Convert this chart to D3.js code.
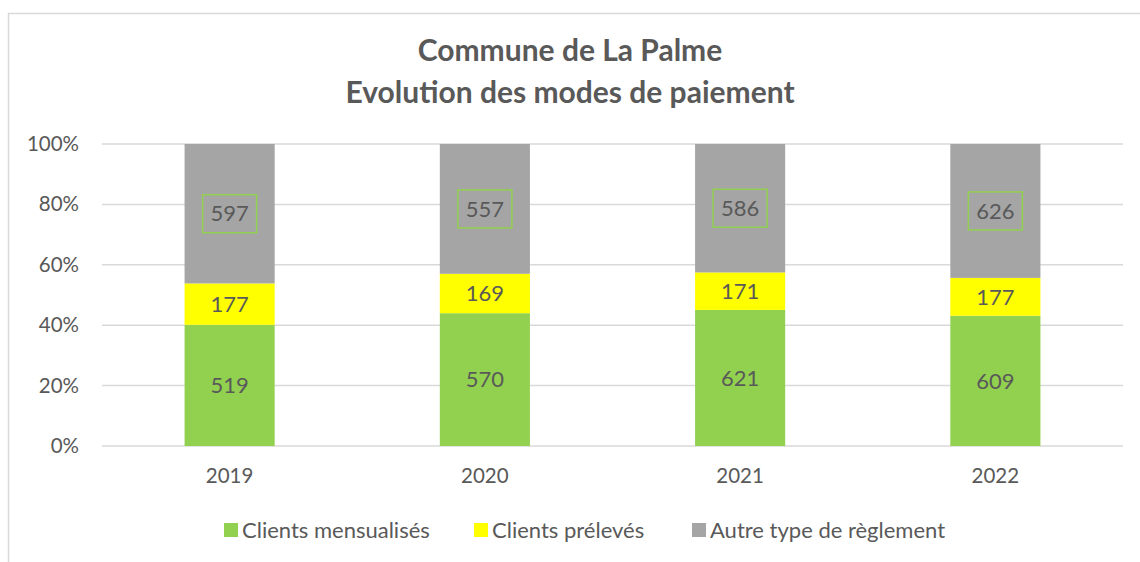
<!DOCTYPE html>
<html>
<head>
<meta charset="utf-8">
<script src="https://cdn.jsdelivr.net/npm/d3@7"></script>
<style>
  body { margin: 0; background: #fff; }
  text { font-family: Lato, "Open Sans", sans-serif; fill: #595959; }
</style>
</head>
<body>
<div id="chart"></div>
<script>
var years = ['2019', '2020', '2021', '2022'];
var mensualises = [519, 570, 621, 609];
var preleves = [177, 169, 171, 177];
var autres = [597, 557, 586, 626];
var seriesNames = ['Clients mensualisés', 'Clients prélevés', 'Autre type de règlement'];
var colors = ['#92d050', '#ffff00', '#a5a5a5'];
var yTicks = [0, 0.2, 0.4, 0.6, 0.8, 1];

(function() {
  var W = 1140, H = 562;
  var svg = d3.select('#chart').append('svg')
    .attr('width', W)
    .attr('height', H);

  // chart frame (cropped on right/bottom)
  svg.append('rect')
    .attr('x', 8.5).attr('y', 13.5)
    .attr('width', 1200).attr('height', 600)
    .attr('fill', 'none')
    .attr('stroke', '#d9d9d9')
    .attr('stroke-width', 1.5);

  var title = svg.append('text')
    .attr('x', 570).attr('text-anchor', 'middle')
    .style('font-size', '30px').style('font-weight', 'bold');
  title.append('tspan').attr('x', 570).attr('y', 61).text('Commune de La Palme');
  title.append('tspan').attr('x', 570).attr('y', 103).text('Evolution des modes de paiement');

  var left = 102, right = 1123, top = 144, bottom = 446;

  var x = d3.scaleBand().domain(years).range([left, right]).paddingInner(0.647).paddingOuter(0.3235);
  var y = d3.scaleLinear().domain([0, 1]).range([bottom, top]);

  // gridlines
  svg.append('g').selectAll('line').data(yTicks).join('line')
    .attr('x1', left).attr('x2', right)
    .attr('y1', function(d) { return y(d); })
    .attr('y2', function(d) { return y(d); })
    .attr('stroke', '#d9d9d9').attr('stroke-width', 1.5);

  var yAxis = d3.axisLeft(y).tickValues(yTicks).tickFormat(d3.format('.0%')).tickSize(0).tickPadding(23);
  var gy = svg.append('g').attr('transform', 'translate(' + left + ',0)').call(yAxis);
  gy.select('.domain').remove();
  gy.selectAll('text').style('font-size', '20.5px').style('font-family', 'Lato, sans-serif').attr('fill', '#595959');

  var rows = years.map(function(yr, i) {
    var t = mensualises[i] + preleves[i] + autres[i];
    return { year: yr, s0: mensualises[i] / t, s1: preleves[i] / t, s2: autres[i] / t,
             v0: mensualises[i], v1: preleves[i], v2: autres[i] };
  });
  var stack = d3.stack().keys(['s0', 's1', 's2']);
  var layers = stack(rows);

  layers.forEach(function(layer, k) {
    var g = svg.append('g');
    g.selectAll('rect').data(layer).join('rect')
      .attr('x', function(d) { return x(d.data.year); })
      .attr('width', x.bandwidth())
      .attr('y', function(d) { return y(d[1]); })
      .attr('height', function(d) { return y(d[0]) - y(d[1]); })
      .attr('fill', colors[k]);

    if (k === 2) {
      g.selectAll('rect.lbl').data(layer).join('rect')
        .attr('class', 'lbl')
        .attr('x', function(d) { return x(d.data.year) + x.bandwidth() / 2 - 27; })
        .attr('y', function(d) { return y((d[0] + d[1]) / 2) - 19; })
        .attr('width', 54).attr('height', 38)
        .attr('fill', 'none').attr('stroke', '#92d050').attr('stroke-width', 1.5);
    }

    g.selectAll('text').data(layer).join('text')
      .attr('x', function(d) { return x(d.data.year) + x.bandwidth() / 2; })
      .attr('y', function(d) { return y((d[0] + d[1]) / 2); })
      .attr('dy', '0.35em')
      .attr('text-anchor', 'middle')
      .style('font-size', '22px')
      .text(function(d) { return d.data['v' + k]; });
  });

  var xAxis = d3.axisBottom(x).tickSize(0).tickPadding(22);
  var gx = svg.append('g').attr('transform', 'translate(0,' + bottom + ')').call(xAxis);
  gx.select('.domain').remove();
  gx.selectAll('text').style('font-size', '20.5px').style('font-family', 'Lato, sans-serif').attr('fill', '#595959');

  // legend
  var legX = [224, 474, 692];
  var leg = svg.append('g').selectAll('g').data(seriesNames).join('g')
    .attr('transform', function(d, i) { return 'translate(' + legX[i] + ',523)'; });
  leg.append('rect').attr('width', 14).attr('height', 14)
    .attr('fill', function(d, i) { return colors[i]; });
  leg.append('text').attr('x', 18).attr('y', 7).attr('dy', '0.35em')
    .style('font-size', '22px')
    .text(function(d) { return d; });
})();
</script>
</body>
</html>
